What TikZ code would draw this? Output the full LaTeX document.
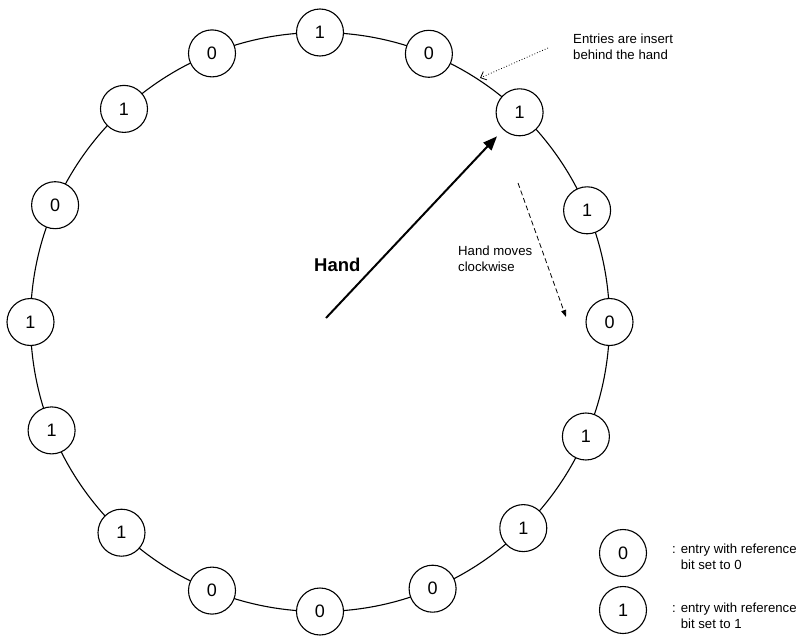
\documentclass[tikz,border=0pt]{standalone}
\usepackage{fontspec}
\setmainfont{Liberation Sans}
\usetikzlibrary{arrows.meta,backgrounds}
\begin{document}
\begin{tikzpicture}[x=1pt,y=-1pt,
  entry/.style={circle,draw,fill=white,line width=1.1pt,minimum size=47pt,
    inner sep=0pt,font=\fontsize{18}{20}\selectfont},
  note/.style={align=left,font=\fontsize{13.2}{15.5}\selectfont,inner sep=0pt,anchor=west},
  ring/.style={line width=1.1pt},
  handarrow/.style={line width=2pt,-{Triangle[length=14pt,width=11pt]},shorten >=9pt},
  hint/.style={line width=0.8pt,dotted,-{Straight Barb[length=5pt,width=9pt]}},
  turn/.style={line width=0.8pt,dash pattern=on 5pt off 3pt,-{Triangle[length=7pt,width=5pt]}},
]
\useasboundingbox (0,0) rectangle (798,637);

% entries of the clock, clockwise from the top
\node[entry] (n1)  at (320,32.5)   {1};
\node[entry] (n2)  at (428.9,53.8) {0};
\node[entry] (n3)  at (519.6,112.3){1};
\node[entry] (n4)  at (587.1,210.3){1};
\node[entry] (n5)  at (609.5,322)  {0};
\node[entry] (n6)  at (585.9,436.5){1};
\node[entry] (n7)  at (523.3,528.1){1};
\node[entry] (n8)  at (432.6,588.7){0};
\node[entry] (n9)  at (320,611.5)  {0};
\node[entry] (n10) at (212,590.6)  {0};
\node[entry] (n11) at (121.5,532.7){1};
\node[entry] (n12) at (51.6,430.4) {1};
\node[entry] (n13) at (30.5,322)   {1};
\node[entry] (n14) at (55.1,205.2) {0};
\node[entry] (n15) at (124,108.9)  {1};
\node[entry] (n16) at (212,53.4)   {0};

% the ring carrying the entries
\coordinate (centre) at (320,322);
\begin{scope}[on background layer]
\draw[ring] (centre) circle[radius=289.5];
\end{scope}

% the clock hand
\coordinate (hub) at (326,318);
\draw[handarrow] (hub) -- (n3);
\node[anchor=west,inner sep=0pt,font=\bfseries\fontsize{18.5}{20}\selectfont] (handlbl) at (314,265) {Hand};

% insertion note
\node[note] (insnote) at (573,47) {Entries are insert\\behind the hand};
\coordinate (insfrom) at (548,48);
\coordinate (insto) at (480,78);
\draw[hint] (insfrom) -- (insto);

% direction note
\node[note] (dirnote) at (458,259) {Hand moves\\clockwise};
\coordinate (dirfrom) at (518,183);
\coordinate (dirto) at (566,317);
\draw[turn] (dirfrom) -- (dirto);

% legend
\node[entry] (key0) at (623,553) {0};
\node[entry] (key1) at (623,610) {1};
\node[note] (key0txt) at (672,557) {: entry with reference\\\hphantom{: }bit set to 0};
\node[note] (key1txt) at (672,616) {: entry with reference\\\hphantom{: }bit set to 1};
\end{tikzpicture}
\end{document}
